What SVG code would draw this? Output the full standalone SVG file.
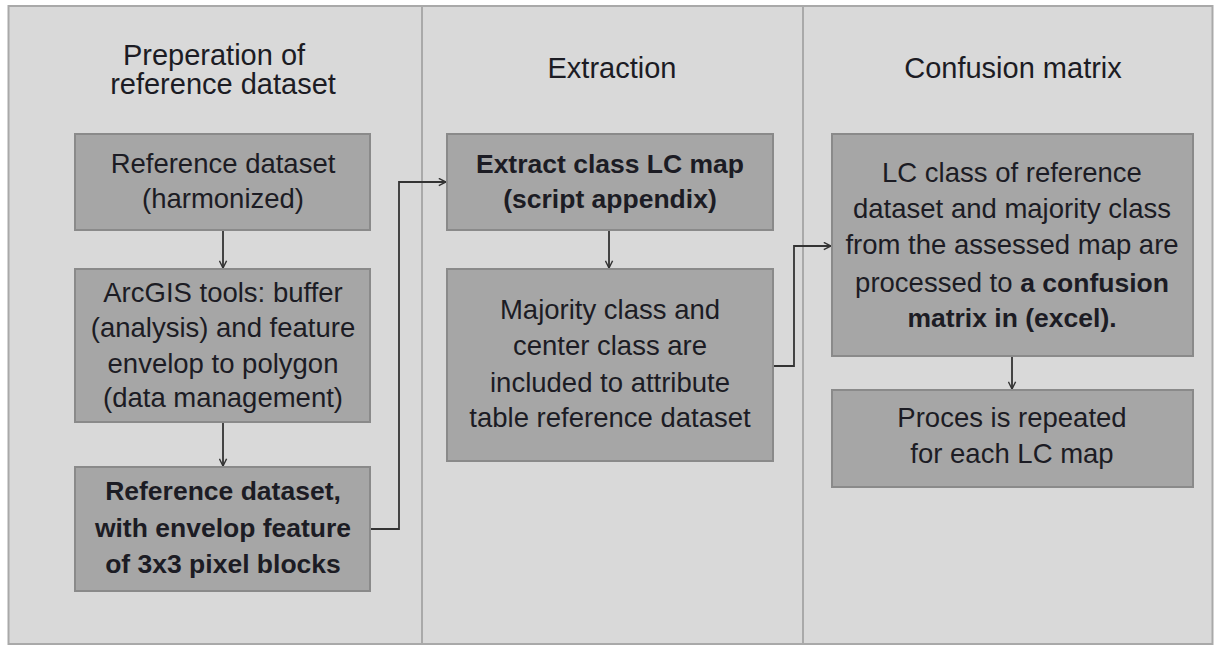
<svg xmlns="http://www.w3.org/2000/svg" width="1214" height="646" viewBox="0 0 1214 646">
  <style>
    .panel { fill: #d9d9d9; stroke: #a9a9a9; stroke-width: 2; }
    .divider { stroke: #a9a9a9; stroke-width: 2; }
    .box { fill: #a6a6a6; stroke: #8a8a8a; stroke-width: 2; }
    .title { font-family: "Liberation Sans", Arial, sans-serif; font-size: 29px; fill: #1c1c24; text-anchor: middle; }
    .label { font-family: "Liberation Sans", Arial, sans-serif; font-size: 27.5px; fill: #1c1c24; text-anchor: middle; }
    .bold { font-weight: bold; font-size: 26.5px; }
    .conn { fill: none; stroke: #333333; stroke-width: 1.8; }
  </style>
  <defs>
    <marker id="arrow" viewBox="0 0 10 10" refX="9" refY="5" markerWidth="9" markerHeight="9" markerUnits="userSpaceOnUse" orient="auto">
      <path d="M1,1 L9,5 L1,9" fill="none" stroke="#333333" stroke-width="1.6"/>
    </marker>
  </defs>

  <rect width="1214" height="646" fill="#ffffff"/>

  <!-- background panel with three columns -->
  <g id="background">
    <rect class="panel" x="8.5" y="6" width="1204" height="638"/>
    <line class="divider" x1="422" y1="6" x2="422" y2="644"/>
    <line class="divider" x1="803" y1="6" x2="803" y2="644"/>
  </g>

  <!-- column headings -->
  <g id="heading-preparation">
    <text class="title" x="214" y="65">Preperation of</text>
    <text class="title" x="223" y="94">reference dataset</text>
  </g>
  <g id="heading-extraction">
    <text class="title" x="612" y="78">Extraction</text>
  </g>
  <g id="heading-confusion">
    <text class="title" x="1013" y="78">Confusion matrix</text>
  </g>

  <!-- connectors -->
  <g id="connectors">
    <line class="conn" x1="223" y1="230" x2="223" y2="268" marker-end="url(#arrow)"/>
    <line class="conn" x1="223" y1="422" x2="223" y2="466" marker-end="url(#arrow)"/>
    <polyline class="conn" points="370,529 399,529 399,182 446,182" marker-end="url(#arrow)"/>
    <line class="conn" x1="609" y1="230" x2="609" y2="268" marker-end="url(#arrow)"/>
    <polyline class="conn" points="773,366 794,366 794,246 831,246" marker-end="url(#arrow)"/>
    <line class="conn" x1="1012" y1="356" x2="1012" y2="389" marker-end="url(#arrow)"/>
  </g>

  <g id="node-reference-harmonized">
    <rect class="box" x="75" y="134" width="295" height="96"/>
    <text class="label" x="223" y="173">Reference dataset</text>
    <text class="label" x="223" y="208">(harmonized)</text>
  </g>

  <g id="node-arcgis-tools">
    <rect class="box" x="75" y="269" width="295" height="153"/>
    <text class="label" x="223" y="302">ArcGIS tools: buffer</text>
    <text class="label" x="223" y="337">(analysis) and feature</text>
    <text class="label" x="223" y="373">envelop to polygon</text>
    <text class="label" x="223" y="407">(data management)</text>
  </g>

  <g id="node-reference-envelop">
    <rect class="box" x="75" y="467" width="295" height="124"/>
    <text class="label bold" x="223" y="500">Reference dataset,</text>
    <text class="label bold" x="223" y="537">with envelop feature</text>
    <text class="label bold" x="223" y="573">of 3x3 pixel blocks</text>
  </g>

  <g id="node-extract-class">
    <rect class="box" x="447" y="134" width="326" height="96"/>
    <text class="label bold" x="610" y="173">Extract class LC map</text>
    <text class="label bold" x="610" y="208">(script appendix)</text>
  </g>

  <g id="node-majority-class">
    <rect class="box" x="447" y="269" width="326" height="192"/>
    <text class="label" x="610" y="319">Majority class and</text>
    <text class="label" x="610" y="355">center class are</text>
    <text class="label" x="610" y="392">included to attribute</text>
    <text class="label" x="610" y="427">table reference dataset</text>
  </g>

  <g id="node-confusion-matrix">
    <rect class="box" x="832" y="134" width="361" height="222"/>
    <text class="label" x="1012" y="182">LC class of reference</text>
    <text class="label" x="1012" y="218">dataset and majority class</text>
    <text class="label" x="1012" y="254">from the assessed map are</text>
    <text class="label" x="1012" y="292">processed to <tspan class="bold">a confusion</tspan></text>
    <text class="label bold" x="1012" y="327">matrix in (excel).</text>
  </g>

  <g id="node-repeat">
    <rect class="box" x="832" y="390" width="361" height="97"/>
    <text class="label" x="1012" y="427">Proces is repeated</text>
    <text class="label" x="1012" y="463">for each LC map</text>
  </g>
</svg>
